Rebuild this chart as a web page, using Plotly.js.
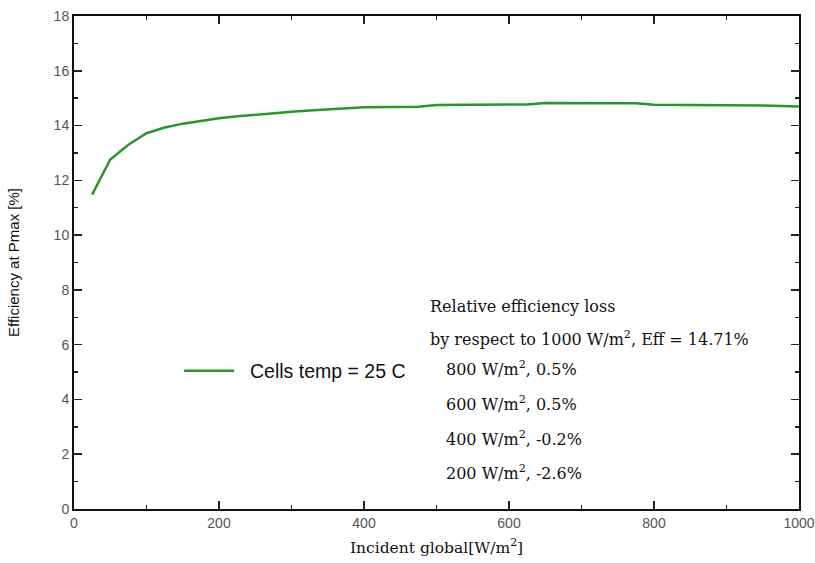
<!DOCTYPE html>
<html>
<head>
<meta charset="utf-8">
<script src="https://cdn.plot.ly/plotly-3.0.1.min.js"></script>
<style>html,body{margin:0;padding:0;background:#fff;}#chart{width:815px;height:563px;}</style>
</head>
<body>
<div id="chart"></div>
<script>
const irradiance = [25,50,75,100,125,150,175,200,225,250,275,300,325,350,375,400,475,500,625,650,775,800,950,975,1000];
const efficiency = [11.48,12.76,13.3,13.72,13.93,14.07,14.17,14.27,14.34,14.4,14.45,14.5,14.55,14.59,14.63,14.67,14.69,14.75,14.77,14.82,14.81,14.76,14.73,14.71,14.7];
const seriesName = 'Cells temp = 25 C';
const noteLines = [
  'Relative efficiency loss',
  'by respect to 1000 W/m<sup>2</sup>, Eff = 14.71%',
  '800 W/m<sup>2</sup>, 0.5%',
  '600 W/m<sup>2</sup>, 0.5%',
  '400 W/m<sup>2</sup>, -0.2%',
  '200 W/m<sup>2</sup>, -2.6%'
];
const noteX = [0.488, 0.488, 0.51, 0.51, 0.51, 0.51];
const noteY = [0.41, 0.345, 0.285, 0.214, 0.143, 0.075];

const serif = 'DejaVu Serif, Liberation Serif, serif';
const sans = 'Liberation Sans, Arial, sans-serif';

const trace = {
  x: irradiance, y: efficiency, type: 'scatter', mode: 'lines',
  name: '\u00a0\u00a0' + seriesName,
  line: {color: '#2a962a', width: 2.5}
};

const axisCommon = {
  showline: true, linecolor: '#111', linewidth: 2, mirror: 'ticks',
  ticks: 'inside', ticklen: 8, tickwidth: 1.5, tickcolor: '#222',
  showgrid: false, zeroline: false,
  tickfont: {family: sans, size: 14, color: '#555'}
};

const layout = {
  width: 815, height: 563,
  margin: {l: 74, r: 16, t: 16, b: 54},
  paper_bgcolor: '#fff', plot_bgcolor: '#fff',
  xaxis: Object.assign({}, axisCommon, {
    range: [0, 1000], dtick: 200, tick0: 0,
    minor: {dtick: 100, ticks: 'inside', ticklen: 4, tickcolor: '#222'},
    title: {text: 'Incident global[W/m<sup>2</sup>]', font: {family: serif, size: 15.5, color: '#111'}, standoff: 12}
  }),
  yaxis: Object.assign({}, axisCommon, {
    range: [0, 18], dtick: 2, tick0: 0,
    minor: {dtick: 1, ticks: 'inside', ticklen: 4, tickcolor: '#222'},
    title: {text: 'Efficiency at Pmax [%]', font: {family: sans, size: 15, color: '#111'}, standoff: 30}
  }),
  showlegend: true,
  legend: {x: 0.145, y: 0.28, xanchor: 'left', yanchor: 'middle', bgcolor: 'rgba(0,0,0,0)',
           itemwidth: 50,
           font: {family: sans, size: 19.5, color: '#111'}},
  annotations: noteLines.map((t, i) => ({
    text: t, xref: 'paper', yref: 'paper', x: noteX[i], y: noteY[i],
    xanchor: 'left', yanchor: 'middle', showarrow: false,
    font: {family: serif, size: 16, color: '#111'}
  }))
};

Plotly.newPlot('chart', [trace], layout, {displayModeBar: false, staticPlot: true});
</script>
</body>
</html>
